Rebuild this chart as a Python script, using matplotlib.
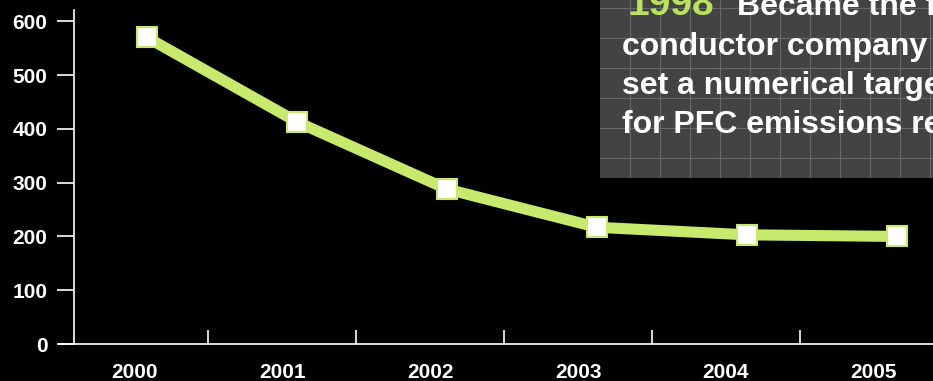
import numpy as np
import matplotlib
matplotlib.use('Agg')
import matplotlib.pyplot as plt
from matplotlib.ticker import FixedLocator

years = ['2000', '2001', '2002', '2003', '2004', '2005']
emissions = [570, 413, 288, 217, 203, 200]
y_ticks = [0, 100, 200, 300, 400, 500, 600]

green = '#c6e96e'
plt.rcParams['font.family'] = ['Liberation Sans', 'DejaVu Sans']
plt.rcParams['font.weight'] = 'bold'

W, H = 933, 381
fig = plt.figure(figsize=(W / 100, H / 100), dpi=100, facecolor='black')

# note box behind the chart (top right)
bx = fig.add_axes([600 / W, (H - 178) / H, (W - 600) / W, 178 / H])
bx.set_facecolor('#434343')
bx.set_xlim(0, W - 600)
bx.set_ylim(0, 178)
for s in bx.spines.values():
    s.set_visible(False)
bx.set_xticks([])
bx.set_yticks([])
for gx in range(30, W - 600, 30):
    bx.axvline(gx, color='#686868', lw=0.8)
for gy in range(20, 178, 30):
    bx.axhline(gy, color='#686868', lw=0.8)

ax = fig.add_axes([59 / W, (H - 344) / H, (W - 59) / W, (344 - 10) / H])
ax.set_facecolor('none')

idx = np.arange(len(years))
xpos = idx * 1.014 + 0.085
ax.plot(xpos, emissions, color=green, lw=8, solid_joinstyle='miter', zorder=3)
ax.plot(xpos, emissions, ls='none', marker='s', ms=15, mfc='white', mec=green,
        mew=1.5, zorder=4)

ax.set_xlim(-0.51, 5.40)
ax.set_ylim(0, 621)

for s in ['top', 'right']:
    ax.spines[s].set_visible(False)
for s in ['left', 'bottom']:
    ax.spines[s].set_color('white')
    ax.spines[s].set_linewidth(1.2)
ax.spines['left'].set_position(('data', -0.409))

ax.set_yticks(y_ticks)
ax.tick_params(axis='y', colors='white', length=12, width=1.2, pad=7,
               labelsize=15)
ax.set_xticks(idx)
ax.set_xticklabels(years)
ax.tick_params(axis='x', which='major', length=0, pad=14, colors='white',
               labelsize=15)
ax.xaxis.set_minor_locator(FixedLocator(idx[:-1] + 0.5))
ax.tick_params(axis='x', which='minor', direction='in', length=10,
               width=1.2, color='white')
for lab in ax.get_xticklabels() + ax.get_yticklabels():
    lab.set_fontweight('bold')

# annotation text
def px(x, y):
    return x / W, 1 - y / H

fig.text(*px(628, 15), '1998', color='#b9e35c', fontsize=28,
         fontweight='bold', va='baseline', zorder=5)
fig.text(*px(737, 15), 'Became the first semi-', color='white', fontsize=23,
         fontweight='bold', va='baseline', zorder=5)
lines = ['conductor company to', 'set a numerical target',
         'for PFC emissions reduction']
for k, t in enumerate(lines):
    fig.text(*px(622, 55 + 39 * k), t, color='white', fontsize=23,
             fontweight='bold', va='baseline', zorder=5)

fig.savefig('out.png', dpi=100, facecolor='black')
